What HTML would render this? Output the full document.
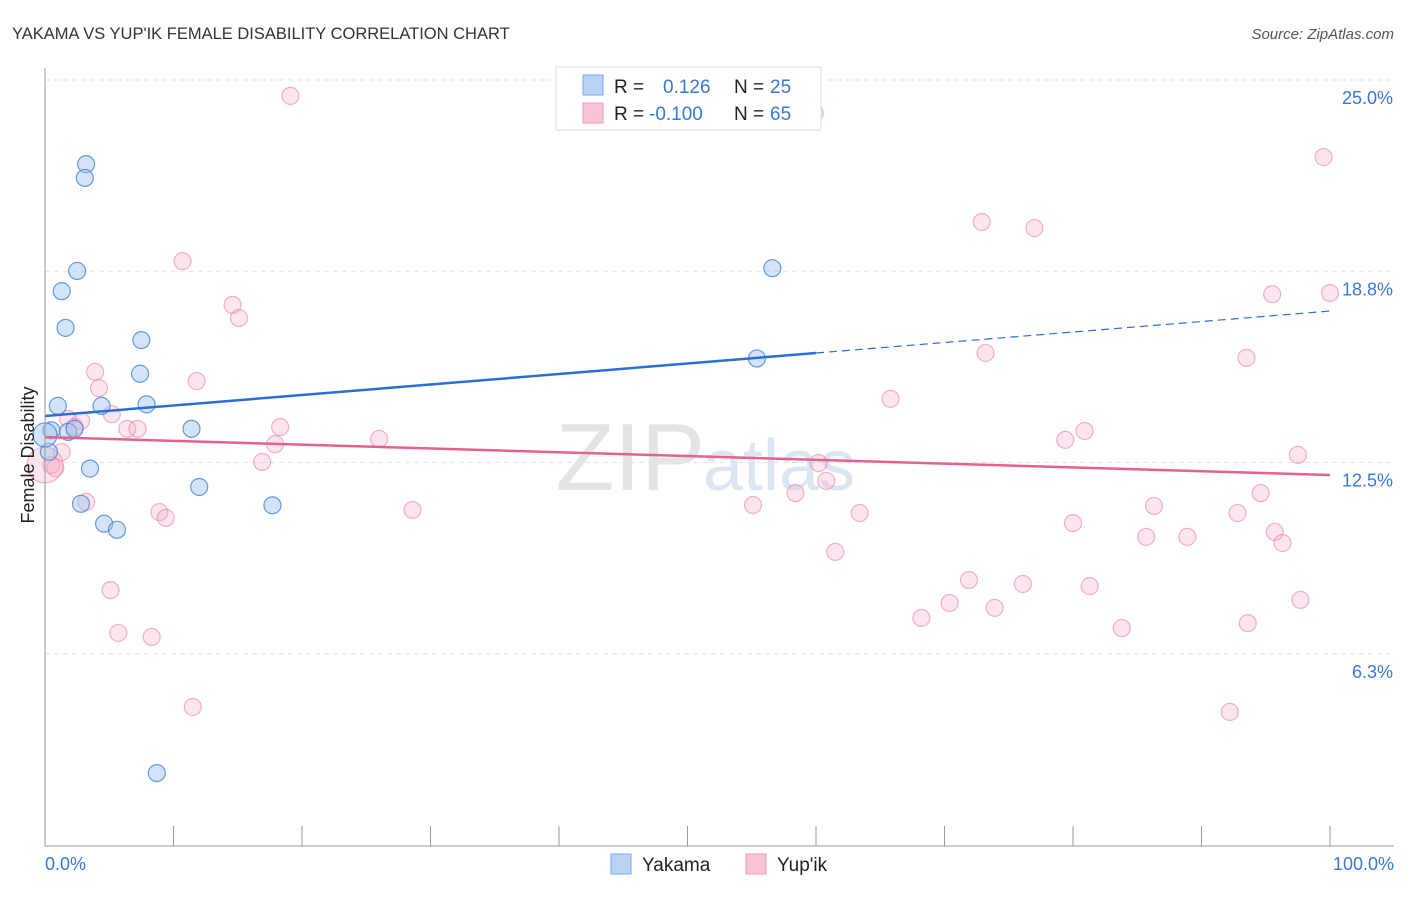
<!DOCTYPE html>
<html><head><meta charset="utf-8"><style>
body{margin:0;background:#fff;font-family:"Liberation Sans",sans-serif}
svg text{font-family:"Liberation Sans",sans-serif}
</style></head><body>
<svg id="c" width="1406" height="892">
<text x="12" y="39" font-size="16.5" fill="#333">YAKAMA VS YUP'IK FEMALE DISABILITY CORRELATION CHART</text>
<text x="1394" y="39" font-size="15" fill="#555" font-style="italic" text-anchor="end">Source: ZipAtlas.com</text>
<g id="grid"></g>
<text x="705" y="490" font-size="96" fill="#e4e4e4" text-anchor="end" font-family="Liberation Serif">ZIP</text>
<text x="703" y="490" font-size="72" fill="#dce6f3">atlas</text>
<g id="pts"></g>
<g id="lines"></g>
<line x1="45" y1="68" x2="45" y2="846" stroke="#999"/>
<line x1="45" y1="846" x2="1394" y2="846" stroke="#999"/>
<g id="ticks"></g>
<text transform="translate(34,455) rotate(-90)" font-size="18" fill="#222" text-anchor="middle">Female Disability</text>
<g>
<rect x="556" y="67" width="265" height="63" fill="#fff" stroke="#ddd"/>
<rect x="583" y="75" width="20" height="20" fill="#b9d3f5" stroke="#7aa6e6"/>
<rect x="583" y="103" width="20" height="20" fill="#f8c5d4" stroke="#ee9bb5"/>
<text x="614" y="93" font-size="19" fill="#222">R =</text>
<text x="663" y="93" font-size="19" fill="#3a78d6">0.126</text>
<text x="734" y="93" font-size="19" fill="#222">N =</text>
<text x="770" y="93" font-size="19" fill="#3a78d6">25</text>
<text x="614" y="120" font-size="19" fill="#222">R =</text>
<text x="649" y="120" font-size="19" fill="#3a78d6">-0.100</text>
<text x="734" y="120" font-size="19" fill="#222">N =</text>
<text x="770" y="120" font-size="19" fill="#3a78d6">65</text>
</g>
<g>
<rect x="611" y="854" width="20" height="20" fill="#b9d3f5" stroke="#7aa6e6"/>
<text x="642" y="871" font-size="19" fill="#222">Yakama</text>
<rect x="746" y="854" width="20" height="20" fill="#f8c5d4" stroke="#ee9bb5"/>
<text x="777" y="871" font-size="19" fill="#222">Yup'ik</text>
</g>
</svg>
<script>
const yTicks=[6.25,12.5,18.75,25];
const yTickLabels=["6.3%","12.5%","18.8%","25.0%"];
const xTickLabels=["0.0%","100.0%"];
const yakamaX=[3.2,3.1,2.5,1.3,1.6,7.5,7.4,7.9,1.0,4.4,11.4,0.5,1.8,2.3,0.3,3.5,12.0,2.8,4.6,5.6,17.7,8.7,56.6,55.4,0];
const yakamaY=[22.25,21.8,18.76,18.1,16.9,16.5,15.4,14.4,14.35,14.35,13.6,13.55,13.5,13.6,12.85,12.3,11.7,11.15,10.5,10.3,11.1,2.35,18.85,15.9,13.4];
const yupikX=[19.1,41.6,59.9,99.5,10.7,14.6,15.1,72.9,77.0,95.5,100,73.2,93.5,3.9,11.8,4.2,65.8,5.2,1.8,2.8,2.3,6.4,7.2,18.3,17.9,26.0,79.4,80.9,1.3,0.5,0.8,16.9,60.2,60.8,97.5,58.4,94.6,3.2,8.9,9.4,28.6,55.1,63.4,80.0,86.3,92.8,85.7,88.9,95.7,96.3,61.5,71.9,76.1,81.3,5.1,70.4,73.9,68.2,97.7,83.8,93.6,5.7,8.3,11.5,92.2,0];
const yupikY=[24.48,25.0,23.92,22.48,19.08,17.65,17.22,20.36,20.16,18.0,18.04,16.08,15.92,15.46,15.16,14.93,14.58,14.08,13.92,13.86,13.66,13.6,13.6,13.66,13.1,13.27,13.24,13.53,12.84,12.42,12.32,12.52,12.48,11.9,12.75,11.5,11.5,11.21,10.88,10.69,10.95,11.11,10.85,10.52,11.08,10.85,10.07,10.07,10.23,9.87,9.58,8.66,8.53,8.46,8.33,7.91,7.75,7.42,8.01,7.09,7.25,6.93,6.8,4.51,4.35,12.42];
const yakamaTrend=[14.02,17.45];
const yupikTrend=[13.33,12.09];
const ns="http://www.w3.org/2000/svg";
const X=v=>45+v*12.85, Y=v=>80+(25-v)*30.6;
function mk(t,a,p){const e=document.createElementNS(ns,t);for(const k in a)e.setAttribute(k,a[k]);p.appendChild(e);return e;}
const grid=document.getElementById('grid'),ticks=document.getElementById('ticks');
yTicks.forEach((v,i)=>{
 const l=mk('line',{x1:45,x2:1394,y1:Y(v),y2:Y(v),stroke:'#e2e2e2','stroke-dasharray':'5,4'},grid);
 
 
 const t=mk('text',{x:1393,y:Y(v)+24,'font-size':18,fill:'#3a78d6','text-anchor':'end'},ticks);
 t.textContent=yTickLabels[i];
 
 
});
for(let i=0;i<=10;i++){
 const l=mk('line',{x1:X(i*10),x2:X(i*10),y1:826,y2:846,stroke:'#999'},ticks);
 
 
}
[[0,'start',45],[100,'end',1394]].forEach((d,i)=>{
 const t=mk('text',{x:d[2],y:870,'font-size':18,fill:'#3a78d6','text-anchor':d[1]},ticks);
 t.textContent=xTickLabels[i];
 
 
});
const pts=document.getElementById('pts');
yupikX.forEach((x,i)=>{
 const big=(x===0);
 const c=mk('circle',{cx:X(x),cy:Y(yupikY[i]),r:big?18:8.5,fill:'rgba(246,170,195,0.3)',stroke:'rgba(232,130,165,0.6)','stroke-width':1.2},pts);
 
 
});
yakamaX.forEach((x,i)=>{
 const big=(x===0);
 const c=mk('circle',{cx:X(x),cy:Y(yakamaY[i]),r:big?12:8.5,fill:'rgba(160,195,240,0.45)',stroke:'rgba(70,130,215,0.8)','stroke-width':1.2},pts);
 
 
});
const lines=document.getElementById('lines');
const f=(a,x)=>a[0]+(a[1]-a[0])*x/100;
let l=mk('line',{x1:X(0),y1:Y(yakamaTrend[0]),x2:X(60),y2:Y(f(yakamaTrend,60)),stroke:'#2a6fd6','stroke-width':2.5},lines);


l=mk('line',{x1:X(60),y1:Y(f(yakamaTrend,60)),x2:X(100),y2:Y(yakamaTrend[1]),stroke:'#2a6fd6','stroke-width':1.2,'stroke-dasharray':'8,5'},lines);


l=mk('line',{x1:X(0),y1:Y(yupikTrend[0]),x2:X(100),y2:Y(yupikTrend[1]),stroke:'#e4628e','stroke-width':2.5},lines);


</script>
</body></html>
